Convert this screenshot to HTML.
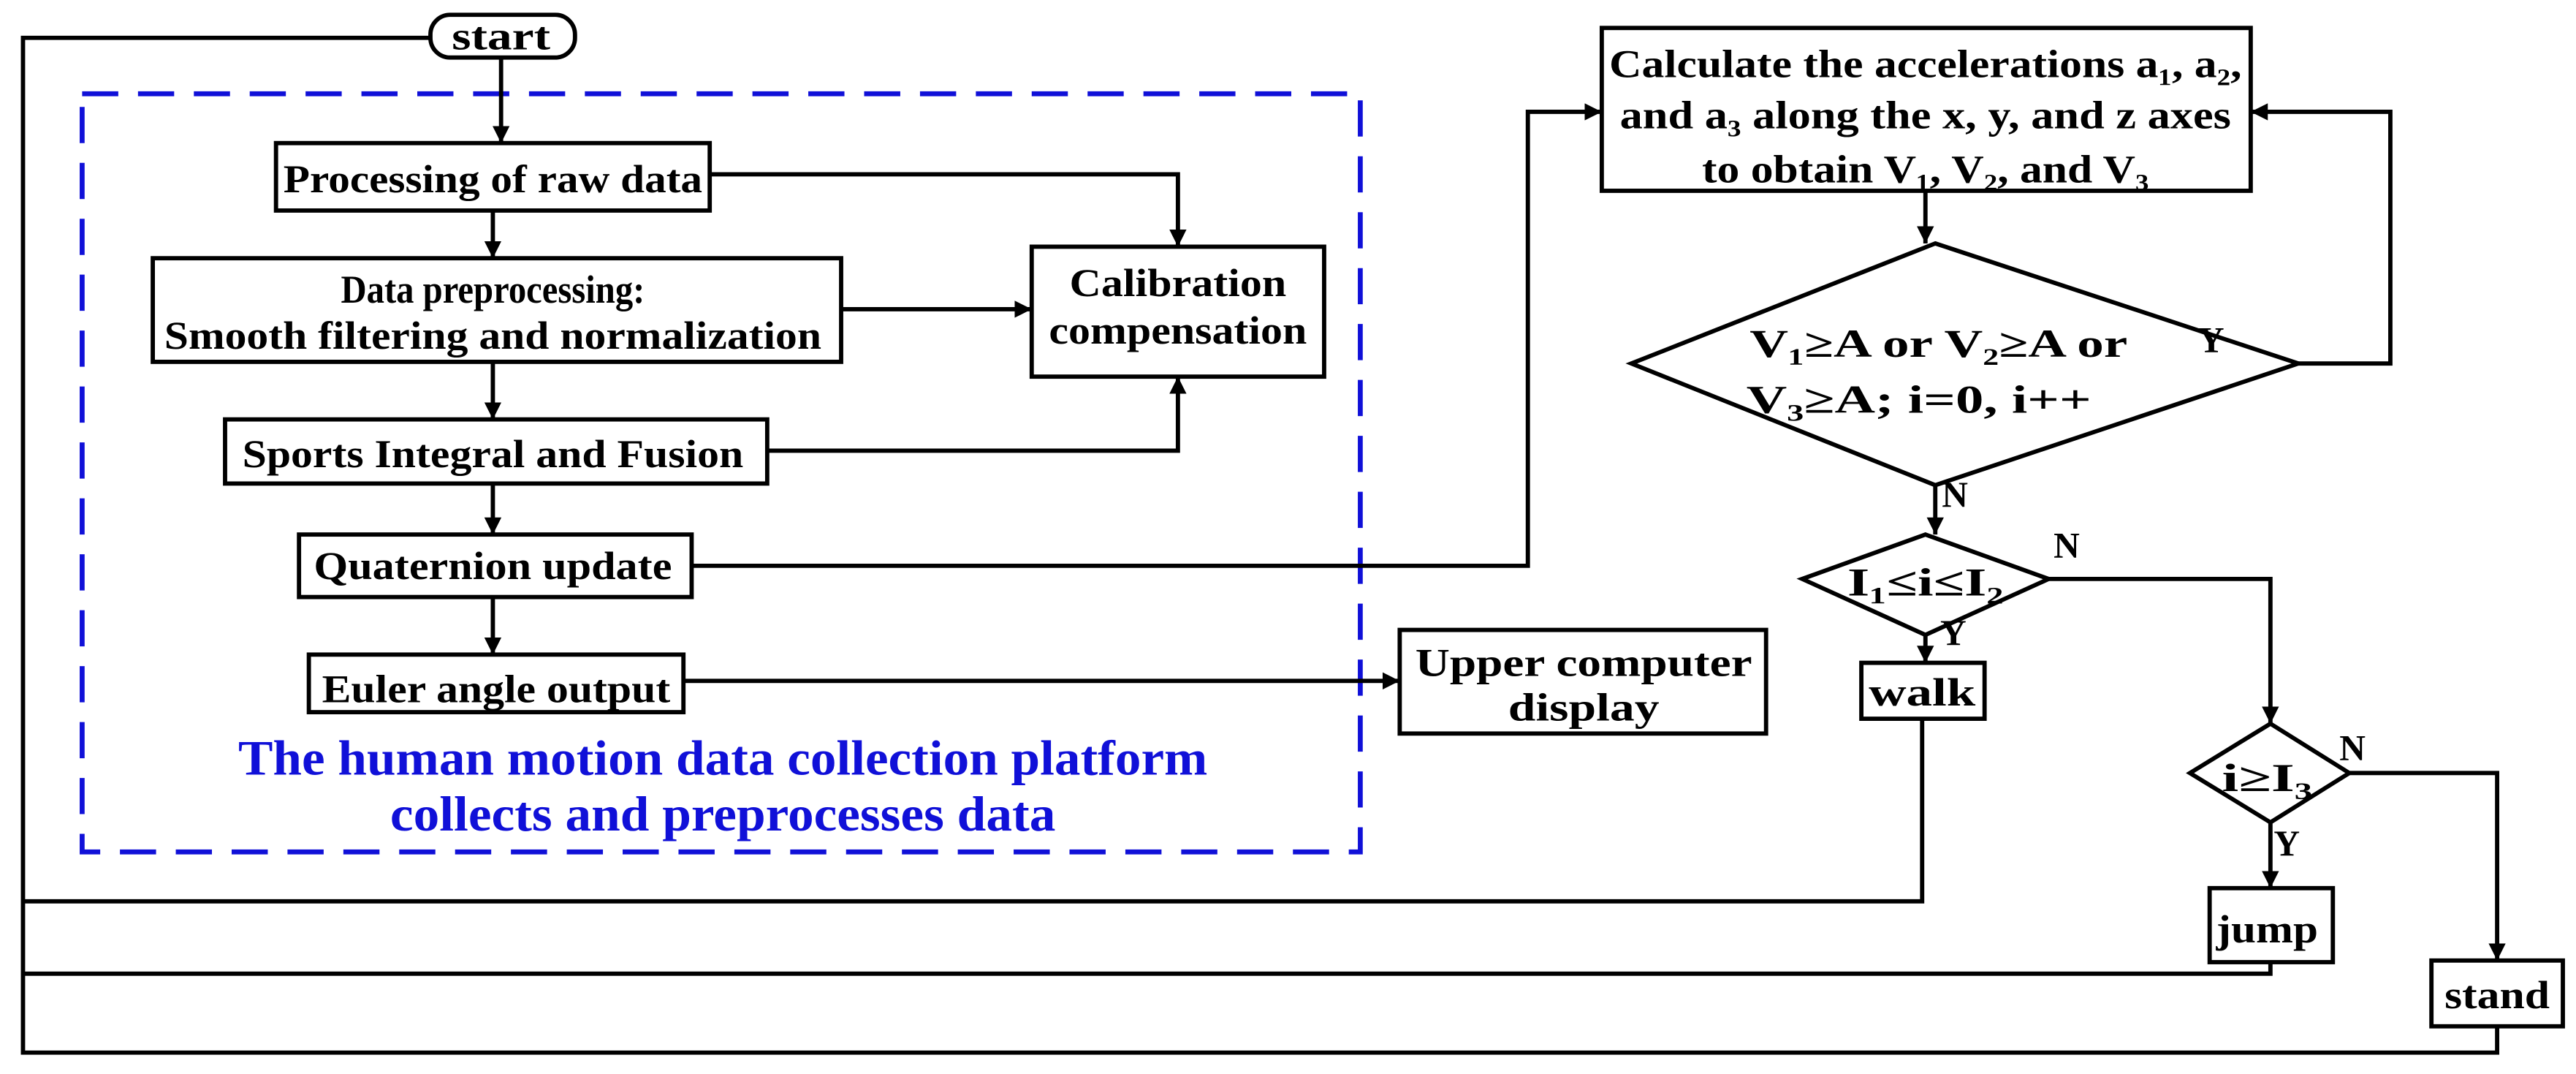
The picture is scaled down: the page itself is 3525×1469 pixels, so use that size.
<!DOCTYPE html>
<html><head><meta charset="utf-8"><style>
html,body{margin:0;padding:0;background:#fff;}
svg{display:block;}
text{font-family:"Liberation Serif","DejaVu Serif",serif;font-weight:bold;fill:#000;}
</style></head><body>
<svg width="3525" height="1469" viewBox="0 0 1568 653" preserveAspectRatio="none" xmlns="http://www.w3.org/2000/svg">
<defs>
<marker id="a" viewBox="0 0 10 10" refX="10" refY="5" markerWidth="4" markerHeight="4" orient="auto" markerUnits="strokeWidth">
<path d="M0,0 L10,5 L0,10 z" fill="#000"/></marker>
</defs>
<rect x="0" y="0" width="1568" height="653" fill="#fff"/>
<rect x="50" y="57" width="778" height="461" fill="none" stroke="#1010d8" stroke-width="3" stroke-dasharray="22,12"/>
<g fill="none" stroke="#000" stroke-width="2.6">
<rect x="262" y="9" width="88" height="26" rx="12"/>
<polyline points="262,23 14,23 14,640 1520,640 1520,624"/>
<polyline points="14,548 1170,548 1170,437"/>
<polyline points="14,592 1382,592 1382,584"/>
<rect x="168" y="87" width="264" height="41"/>
<rect x="93" y="157" width="419" height="63"/>
<rect x="628" y="150" width="178" height="79"/>
<rect x="137" y="255" width="330" height="39"/>
<rect x="182" y="325" width="239" height="38"/>
<rect x="188" y="398" width="228" height="35"/>
<rect x="852" y="383" width="223" height="63"/>
<rect x="975" y="17" width="395" height="99"/>
<rect x="1133" y="403" width="75" height="34"/>
<rect x="1345" y="540" width="75" height="45"/>
<rect x="1480" y="584" width="80" height="40"/>
<polygon points="1178,148 1399,221 1178,295 993,221"/>
<polygon points="1172,325 1247,352 1172,386 1097,352"/>
<polygon points="1382,440 1430,470 1382,500 1333,470"/>
<line x1="305" y1="35" x2="305" y2="87" marker-end="url(#a)"/>
<line x1="300" y1="128" x2="300" y2="157" marker-end="url(#a)"/>
<line x1="300" y1="220" x2="300" y2="255" marker-end="url(#a)"/>
<line x1="300" y1="294" x2="300" y2="325" marker-end="url(#a)"/>
<line x1="300" y1="363" x2="300" y2="398" marker-end="url(#a)"/>
<polyline points="432,106 717,106 717,150" marker-end="url(#a)"/>
<line x1="512" y1="188" x2="628" y2="188" marker-end="url(#a)"/>
<polyline points="467,274 717,274 717,229" marker-end="url(#a)"/>
<polyline points="421,344 930,344 930,68 975,68" marker-end="url(#a)"/>
<line x1="416" y1="414" x2="852" y2="414" marker-end="url(#a)"/>
<polyline points="1399,221 1455,221 1455,68 1370,68" marker-end="url(#a)"/>
<line x1="1172" y1="116" x2="1172" y2="148" marker-end="url(#a)"/>
<line x1="1178" y1="295" x2="1178" y2="325" marker-end="url(#a)"/>
<line x1="1172" y1="386" x2="1172" y2="403" marker-end="url(#a)"/>
<polyline points="1247,352 1382,352 1382,440" marker-end="url(#a)"/>
<line x1="1382" y1="500" x2="1382" y2="540" marker-end="url(#a)"/>
<polyline points="1430,470 1520,470 1520,584" marker-end="url(#a)"/>
</g>
<g text-anchor="middle" font-size="24">
<text x="305" y="30" textLength="60" lengthAdjust="spacingAndGlyphs">start</text>
<text x="300" y="117" textLength="255" lengthAdjust="spacingAndGlyphs">Processing of raw data</text>
<text x="300" y="184" textLength="185" lengthAdjust="spacingAndGlyphs">Data preprocessing:</text>
<text x="300" y="212" textLength="400" lengthAdjust="spacingAndGlyphs">Smooth filtering and normalization</text>
<text x="717" y="180" textLength="132" lengthAdjust="spacingAndGlyphs">Calibration</text>
<text x="717" y="209" textLength="157" lengthAdjust="spacingAndGlyphs">compensation</text>
<text x="300" y="284" textLength="305" lengthAdjust="spacingAndGlyphs">Sports Integral and Fusion</text>
<text x="300" y="352" textLength="218" lengthAdjust="spacingAndGlyphs">Quaternion update</text>
<text x="302" y="427" textLength="212" lengthAdjust="spacingAndGlyphs">Euler angle output</text>
<text x="964" y="411" textLength="205" lengthAdjust="spacingAndGlyphs">Upper computer</text>
<text x="964" y="438" textLength="92" lengthAdjust="spacingAndGlyphs">display</text>
<text x="1172" y="47" textLength="385" lengthAdjust="spacingAndGlyphs">Calculate the accelerations a₁, a₂,</text>
<text x="1172" y="78" textLength="372" lengthAdjust="spacingAndGlyphs">and a₃ along the x, y, and z axes</text>
<text x="1172" y="111" textLength="272" lengthAdjust="spacingAndGlyphs">to obtain V₁, V₂, and V₃</text>
<text x="1180" y="217" textLength="230" lengthAdjust="spacingAndGlyphs">V₁≥A or V₂≥A or</text>
<text x="1168" y="251" textLength="210" lengthAdjust="spacingAndGlyphs">V₃≥A;  i=0,  i++</text>
<text x="1172" y="362" textLength="95" lengthAdjust="spacingAndGlyphs">I₁≤i≤I₂</text>
<text x="1170" y="429" textLength="65" lengthAdjust="spacingAndGlyphs">walk</text>
<text x="1380" y="481" textLength="55" lengthAdjust="spacingAndGlyphs">i≥I₃</text>
<text x="1380" y="573" textLength="62" lengthAdjust="spacingAndGlyphs">jump</text>
<text x="1520" y="613" textLength="64" lengthAdjust="spacingAndGlyphs">stand</text>
</g>
<g font-size="22">
<text x="1338" y="214">Y</text>
<text x="1182" y="308">N</text>
<text x="1250" y="339">N</text>
<text x="1181" y="392">Y</text>
<text x="1424" y="462">N</text>
<text x="1384" y="520">Y</text>
</g>
<g text-anchor="middle" font-size="30">
<text x="440" y="471" textLength="590" lengthAdjust="spacingAndGlyphs" style="fill:#1010d8">The human motion data collection platform</text>
<text x="440" y="505" textLength="405" lengthAdjust="spacingAndGlyphs" style="fill:#1010d8">collects and preprocesses data</text>
</g>
</svg>
</body></html>
